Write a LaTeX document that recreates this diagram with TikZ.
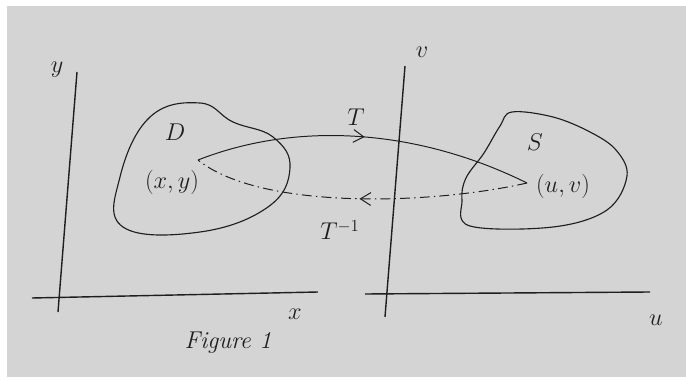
\documentclass[tikz,border=0pt]{standalone}
\usepackage{amsmath,amssymb}
\usepackage{xcolor}
\usepackage{tikz}
\usetikzlibrary{arrows.meta,decorations.markings}

\definecolor{paper}{RGB}{212,212,212}
\definecolor{ink}{RGB}{30,30,30}

\begin{document}
\begin{tikzpicture}[
  x=0.025cm, y=-0.025cm,
  every node/.style={text=ink, font=\LARGE},
  axisline/.style={draw=ink, line width=1pt},
  region/.style={draw=ink, line width=0.8pt},
  forward/.style={draw=ink, line width=0.7pt, postaction={decorate},
    decoration={markings, mark=at position 0.5 with {\arrow{Straight Barb[length=2.6mm, width=3.2mm]}}}},
  backward/.style={draw=ink, line width=0.7pt,
    dash pattern=on 7pt off 3pt on 1pt off 3pt, postaction={decorate},
    decoration={markings, mark=at position 0.5 with {\arrow{Straight Barb[length=2.6mm, width=3.2mm]}}}},
  axislabel/.style={font=\LARGE}
]
  \useasboundingbox (0,0) rectangle (686,381);
  \fill[white] (0,0) rectangle (686,381);
  \fill[paper] (7,6) rectangle (686,377);

  % xy plane
  \draw[axisline] (58,312) -- (77,72);
  \draw[axisline] (32,298) -- (318,292);
  \node[axislabel] (ylab) at (57,70) {$y$};
  \node[axislabel] (xlab) at (295,314) {$x$};

  % uv plane
  \draw[axisline] (385,317) -- (405,66);
  \draw[axisline] (365,294) -- (650,292);
  \node[axislabel] (vlab) at (422,52) {$v$};
  \node[axislabel] (ulab) at (656,320) {$u$};

  % regions
  \draw[region] plot[smooth cycle, tension=0.7] coordinates {
    (200,103) (233,122) (273,137) (290,168) (268,207) (200,232)
    (123,227) (120,177) (150,117)};
  \draw[region] plot[smooth cycle, tension=0.6] coordinates {
    (512,112) (553,117) (590,132) (616,150) (627,176) (607,210)
    (553,227) (470,226) (462,200) (466,178) (484,153) (500,126)};
  \node (dlab) at (175,132) {$D$};
  \node (slab) at (535,142) {$S$};

  % points and maps
  \coordinate (pxy) at (198,160);
  \coordinate (puv) at (527,183);
  \node (xy) at (172,182) {$(x,y)$};
  \node (uv) at (563,186) {$(u,v)$};

  \draw[forward] (pxy) .. controls (300,120) and (420,130) .. (puv);
  \draw[backward] (puv) .. controls (430,205) and (260,210) .. (pxy);
  \node (tlab) at (356,117) {$T$};
  \node (tinvlab) at (340,230) {$T^{-1}$};

  \node[font=\LARGE\itshape] (caption) at (228,343) {Figure 1};
\end{tikzpicture}
\end{document}
